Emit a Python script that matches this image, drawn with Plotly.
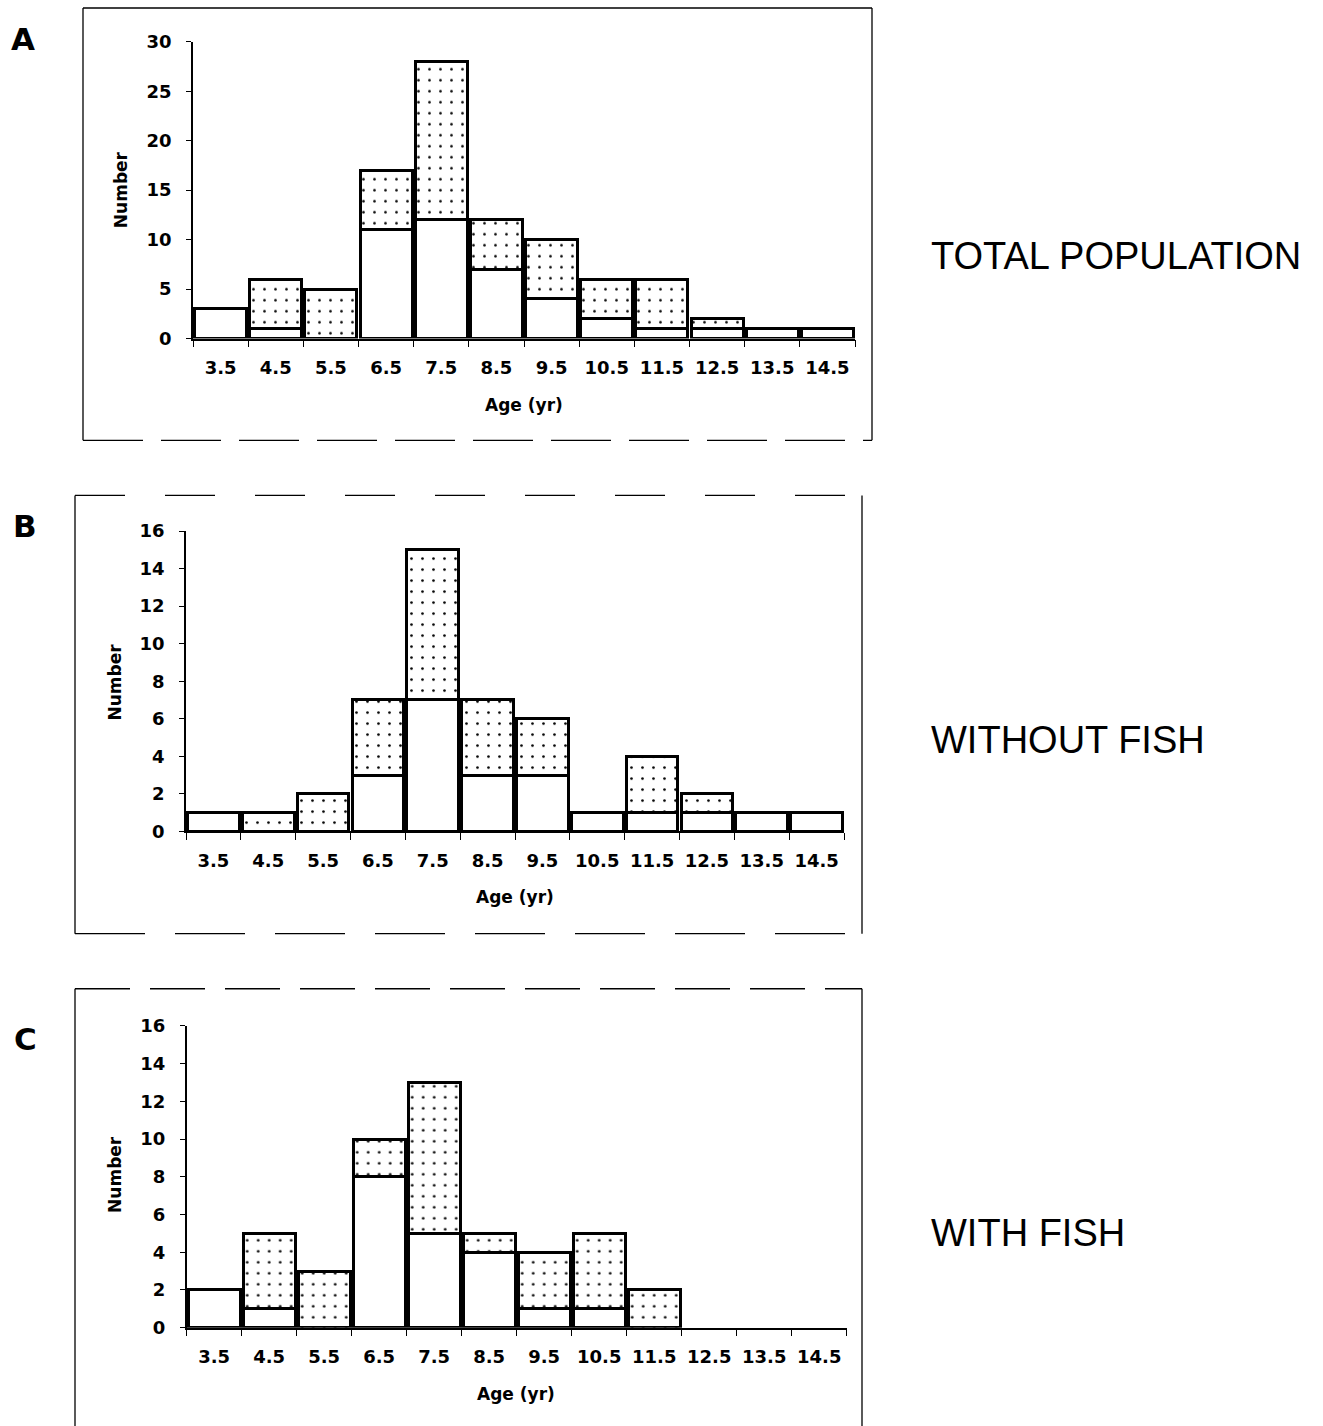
import plotly.graph_objects as go

ages = ["3.5", "4.5", "5.5", "6.5", "7.5", "8.5", "9.5", "10.5", "11.5", "12.5", "13.5", "14.5"]

total_white = [3, 1, 0, 11, 12, 7, 4, 2, 1, 1, 1, 1]
total_dotted = [0, 5, 5, 6, 16, 5, 6, 4, 5, 1, 0, 0]

without_white = [1, 0, 0, 3, 7, 3, 3, 1, 1, 1, 1, 1]
without_dotted = [0, 1, 2, 4, 8, 4, 3, 0, 3, 1, 0, 0]

with_white = [2, 1, 0, 8, 5, 4, 1, 1, 0, 0, 0, 0]
with_dotted = [0, 4, 3, 2, 8, 1, 3, 4, 2, 0, 0, 0]

panel_letters = ["A", "B", "C"]
panel_titles = ["TOTAL POPULATION", "WITHOUT FISH", "WITH FISH"]
y_maxima = [30, 16, 16]
y_steps = [5, 2, 2]
x_title = "Age (yr)"
y_title = "Number"

W, H = 1323, 1426
# the photographed page shows the figure with a small vertical inset;
# map target picture rows to figure rows accordingly
V_OFF, V_SCALE = 11.0, 0.9845


def px(x):
    return x / W


def py(y):
    return 1 - ((y - V_OFF) / V_SCALE) / H


geo = [
    (193, 855, 338.3, 41.7),
    (186, 844, 830.7, 530.7),
    (186.7, 846.7, 1326.7, 1025),
]
letter_pos = [(23, 39), (25, 526), (25, 1038)]
title_pos = [(929, 256), (929, 739.5), (929, 1232.5)]
num_pos = [(121, 190), (115, 681), (115, 1173)]
age_pos = [(524, 405), (515, 896), (516, 1393)]

series = [
    (total_white, total_dotted),
    (without_white, without_dotted),
    (with_white, with_dotted),
]

FONT = "Liberation Sans, Arial, sans-serif"
BFONT = "DejaVu Sans, Liberation Sans, sans-serif"


def nz(vals):
    return [v if v else None for v in vals]


fig = go.Figure()
layout = dict(
    width=W, height=H, margin=dict(l=0, r=0, t=0, b=0),
    paper_bgcolor="white", plot_bgcolor="rgba(0,0,0,0)",
    barmode="stack", bargap=0.06, showlegend=False,
    font=dict(family=FONT, color="black"),
)
annotations = []
shapes = []

for i in range(3):
    xa = "x" if i == 0 else f"x{i+1}"
    ya = "y" if i == 0 else f"y{i+1}"
    white, dotted = series[i]
    fig.add_trace(go.Bar(
        x=ages, y=nz(white), xaxis=xa, yaxis=ya,
        marker=dict(color="white", line=dict(color="black", width=3)),
    ))
    fig.add_trace(go.Bar(
        x=ages, y=nz(dotted), xaxis=xa, yaxis=ya,
        marker=dict(color="white", line=dict(color="black", width=3),
                    pattern=dict(shape=".", size=11, solidity=0.045,
                                 fgcolor="black", bgcolor="white",
                                 fillmode="replace")),
    ))
    l, r, y0, y1 = geo[i]
    xkey = "xaxis" if i == 0 else f"xaxis{i+1}"
    ykey = "yaxis" if i == 0 else f"yaxis{i+1}"
    layout[xkey] = dict(
        domain=[px(l), px(r)], anchor=ya, type="category",
        range=[-0.5, 11.5], tickson="boundaries", ticks="outside",
        ticklen=7, tickwidth=1.3, tickcolor="black",
        showline=True, linecolor="black", linewidth=1.5,
        showgrid=False, zeroline=False,
        tickfont=dict(size=18, family=BFONT, weight="bold", color="black"),
        ticklabelstandoff=12,
    )
    layout[ykey] = dict(
        domain=[py(y0), py(y1)], anchor=xa,
        range=[0, y_maxima[i]], dtick=y_steps[i], tick0=0,
        ticks="outside", ticklen=5, tickwidth=1.3, tickcolor="black",
        showline=True, linecolor="black", linewidth=1.5,
        showgrid=False, zeroline=False,
        tickfont=dict(size=18, family=BFONT, weight="bold", color="black"),
        ticklabelstandoff=11,
    )
    lx, ly = letter_pos[i]
    annotations.append(dict(
        x=px(lx), y=py(ly), xref="paper", yref="paper", text=panel_letters[i],
        showarrow=False, xanchor="center", yanchor="middle",
        font=dict(size=31, family=BFONT, weight="bold", color="black"),
    ))
    tx, ty = title_pos[i]
    annotations.append(dict(
        x=px(tx), y=py(ty), xref="paper", yref="paper", text=panel_titles[i],
        showarrow=False, xanchor="left", yanchor="middle",
        font=dict(size=38, family=FONT, color="black"),
    ))
    nx, ny = num_pos[i]
    annotations.append(dict(
        x=px(nx), y=py(ny), xref="paper", yref="paper", text=y_title,
        showarrow=False, xanchor="center", yanchor="middle", textangle=-90,
        font=dict(size=17, family=BFONT, weight="bold", color="black"),
    ))
    ax, ay = age_pos[i]
    annotations.append(dict(
        x=px(ax), y=py(ay), xref="paper", yref="paper", text=x_title,
        showarrow=False, xanchor="center", yanchor="middle",
        font=dict(size=17, family=BFONT, weight="bold", color="black"),
    ))

# panel frames (scanned, partly broken lines)
frames = [
    (83, 872, 8, 440, "solid", "60px,18px"),
    (75, 862, 495, 933, "50px,40px", "70px,30px"),
    (75, 862, 988, 1440, "55px,20px", "solid"),
]
for (fl, fr, ft, fb, topdash, botdash) in frames:
    shapes.append(dict(type="line", xref="paper", yref="paper",
                       x0=px(fl), x1=px(fl), y0=py(ft), y1=py(fb),
                       line=dict(color="black", width=1.3)))
    shapes.append(dict(type="line", xref="paper", yref="paper",
                       x0=px(fr), x1=px(fr), y0=py(ft), y1=py(fb),
                       line=dict(color="black", width=1.3)))
    shapes.append(dict(type="line", xref="paper", yref="paper",
                       x0=px(fl), x1=px(fr), y0=py(ft), y1=py(ft),
                       line=dict(color="black", width=1.3, dash=topdash)))
    shapes.append(dict(type="line", xref="paper", yref="paper",
                       x0=px(fl), x1=px(fr), y0=py(fb), y1=py(fb),
                       line=dict(color="black", width=1.3, dash=botdash)))

layout["annotations"] = annotations
layout["shapes"] = shapes
fig.update_layout(**layout)
fig.write_html("out.html")
